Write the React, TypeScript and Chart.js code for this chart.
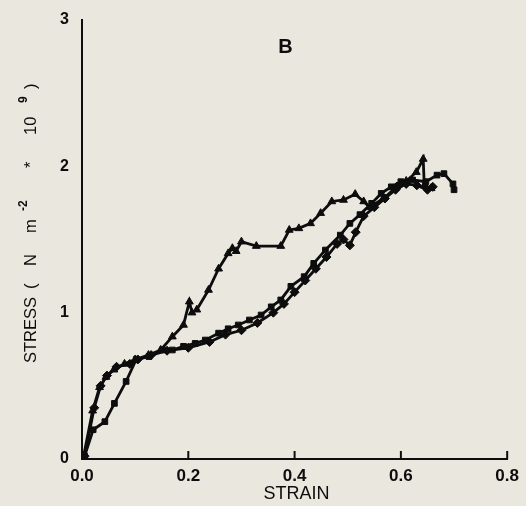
import React, { useEffect, useRef } from "react";
import { Chart, registerables } from "chart.js";

Chart.register(...registerables);

const xTicks = [0, 0.2, 0.4, 0.6, 0.8];
const yTicks = [0, 1, 2, 3];

// Triangle curve
const triStrain = [0.003, 0.02, 0.033, 0.045, 0.06, 0.08, 0.1, 0.125, 0.148, 0.17, 0.191, 0.202, 0.207, 0.216, 0.238, 0.257, 0.275, 0.283, 0.29, 0.3, 0.328, 0.374, 0.39, 0.408, 0.43, 0.449, 0.47, 0.492, 0.514, 0.53, 0.541, 0.567, 0.592, 0.61, 0.629, 0.642, 0.644, 0.657];
const triStress = [0.02, 0.33, 0.49, 0.56, 0.61, 0.65, 0.68, 0.71, 0.745, 0.836, 0.916, 1.075, 1.0, 1.02, 1.155, 1.3, 1.405, 1.44, 1.42, 1.485, 1.455, 1.455, 1.565, 1.576, 1.61, 1.68, 1.76, 1.77, 1.81, 1.76, 1.72, 1.78, 1.86, 1.9, 1.96, 2.05, 1.87, 1.85];

// Square curve (lower start)
const sqStrain = [0.005, 0.021, 0.043, 0.061, 0.083, 0.102, 0.126, 0.151, 0.17, 0.191, 0.213, 0.232, 0.257, 0.275, 0.294, 0.315, 0.337, 0.356, 0.374, 0.393, 0.418, 0.436, 0.458, 0.486, 0.504, 0.523, 0.545, 0.563, 0.582, 0.6, 0.622, 0.647, 0.668, 0.681, 0.698, 0.7];
const sqStress = [0.02, 0.2, 0.255, 0.38, 0.53, 0.68, 0.7, 0.745, 0.745, 0.77, 0.79, 0.813, 0.86, 0.89, 0.916, 0.95, 0.984, 1.04, 1.087, 1.18, 1.246, 1.337, 1.428, 1.53, 1.61, 1.67, 1.747, 1.815, 1.86, 1.895, 1.907, 1.895, 1.94, 1.95, 1.88, 1.84];

// Diamond curve (upper start, lower path)
const diStrain = [0.005, 0.023, 0.035, 0.047, 0.065, 0.09, 0.105, 0.13, 0.16, 0.2, 0.24, 0.27, 0.3, 0.33, 0.36, 0.38, 0.4, 0.42, 0.44, 0.46, 0.48, 0.492, 0.504, 0.515, 0.53, 0.55, 0.57, 0.59, 0.61, 0.63, 0.65, 0.66];
const diStress = [0.02, 0.35, 0.5, 0.57, 0.63, 0.65, 0.68, 0.71, 0.74, 0.76, 0.8, 0.85, 0.88, 0.93, 1.0, 1.06, 1.14, 1.22, 1.3, 1.38, 1.47, 1.5, 1.46, 1.55, 1.66, 1.72, 1.78, 1.84, 1.88, 1.87, 1.84, 1.86];

// Y-axis title pieces: text, superscript flag
const yTitleParts: [string, boolean][] = [
  ["STRESS", false],
  ["(", false],
  ["N", false],
  ["m", false],
  ["-2", true],
  ["*", false],
  ["10", false],
  ["9", true],
  [")", false],
];
const yTitleStarts = [363, 289, 266, 233, 211, 168, 135, 103, 89];

const BG = "#e9e7de";
const INK = "#0d0d0d";
const FONT = "'Liberation Sans', Arial, sans-serif";

function pts(xs: number[], ys: number[]) {
  return xs.map((x, i) => ({ x, y: ys[i] }));
}

const decor = {
  id: "decor",
  beforeDraw(chart: any) {
    const ctx = chart.ctx;
    ctx.save();
    ctx.fillStyle = BG;
    ctx.fillRect(0, 0, chart.width, chart.height);
    ctx.restore();
  },
  afterDraw(chart: any) {
    const ctx = chart.ctx;
    const xs = chart.scales.x;
    const ys = chart.scales.y;
    const bottom = ys.getPixelForValue(0);
    ctx.save();
    ctx.strokeStyle = INK;
    ctx.lineWidth = 2;
    xTicks.forEach((t) => {
      const px = xs.getPixelForValue(t);
      ctx.beginPath();
      ctx.moveTo(px, bottom);
      ctx.lineTo(px, bottom - 8);
      ctx.stroke();
    });
    ctx.fillStyle = INK;
    ctx.font = `bold 20px ${FONT}`;
    ctx.textAlign = "center";
    ctx.textBaseline = "middle";
    ctx.fillText("B", xs.getPixelForValue(0.383), ys.getPixelForValue(2.81));
    ctx.font = `18px ${FONT}`;
    ctx.fillText("STRAIN", xs.getPixelForValue(0.4) + 2, 494);
    // y title, rotated
    ctx.textAlign = "left";
    ctx.textBaseline = "alphabetic";
    yTitleParts.forEach(([txt, sup], i) => {
      ctx.save();
      ctx.translate(sup ? 27 : 36, yTitleStarts[i]);
      ctx.rotate(-Math.PI / 2);
      ctx.font = sup ? `bold 12px ${FONT}` : `16.5px ${FONT}`;
      ctx.fillText(txt, 0, 0);
      ctx.restore();
    });
    ctx.restore();
  },
};

export default function App() {
  const ref = useRef<HTMLCanvasElement | null>(null);
  useEffect(() => {
    if (!ref.current) return;
    const common = {
      borderColor: INK,
      backgroundColor: INK,
      borderWidth: 2.8,
      pointRadius: 4,
      pointBorderWidth: 1,
      pointBorderColor: INK,
      pointBackgroundColor: INK,
      showLine: true,
      tension: 0,
    };
    const chart = new Chart(ref.current, {
      type: "scatter",
      data: {
        datasets: [
          { ...common, label: "triangle", data: pts(triStrain, triStress), pointStyle: "triangle", pointRadius: 4.5 },
          { ...common, label: "square", data: pts(sqStrain, sqStress), pointStyle: "rect" },
          { ...common, label: "diamond", data: pts(diStrain, diStress), pointStyle: "rectRot", pointRadius: 4.5 },
        ],
      },
      options: {
        animation: false,
        responsive: false,
        layout: { padding: { top: 20, right: 14, left: 0, bottom: 0 } },
        plugins: { legend: { display: false }, tooltip: { enabled: false }, title: { display: false } },
        scales: {
          x: {
            type: "linear",
            min: 0,
            max: 0.8,
            afterBuildTicks: (s: any) => { s.ticks = xTicks.map((v) => ({ value: v })); },
            afterFit: (s: any) => { s.height = 47; },
            grid: { display: false, drawTicks: false },
            border: { display: true, color: INK, width: 2 },
            ticks: {
              color: INK,
              padding: 7,
              font: { family: FONT, size: 17, weight: "bold" },
              callback: (v: any) => Number(v).toFixed(1),
            },
          },
          y: {
            type: "linear",
            min: 0,
            max: 3,
            afterBuildTicks: (s: any) => { s.ticks = yTicks.map((v) => ({ value: v })); },
            afterFit: (s: any) => { s.width = 82; },
            grid: { display: false, drawOnChartArea: false, drawTicks: true, tickLength: 9, tickWidth: 2, tickColor: INK },
            border: { display: true, color: INK, width: 2 },
            ticks: {
              color: INK,
              padding: 4,
              font: { family: FONT, size: 16, weight: "bold" },
              callback: (v: any) => String(v),
            },
          },
        },
      },
      plugins: [decor],
    } as any);
    return () => chart.destroy();
  }, []);
  return (
    <div style={{ position: "fixed", left: 0, top: 0, width: 526, height: 506, background: BG }}>
      <canvas ref={ref} width={526} height={506} style={{ display: "block" }} />
    </div>
  );
}
